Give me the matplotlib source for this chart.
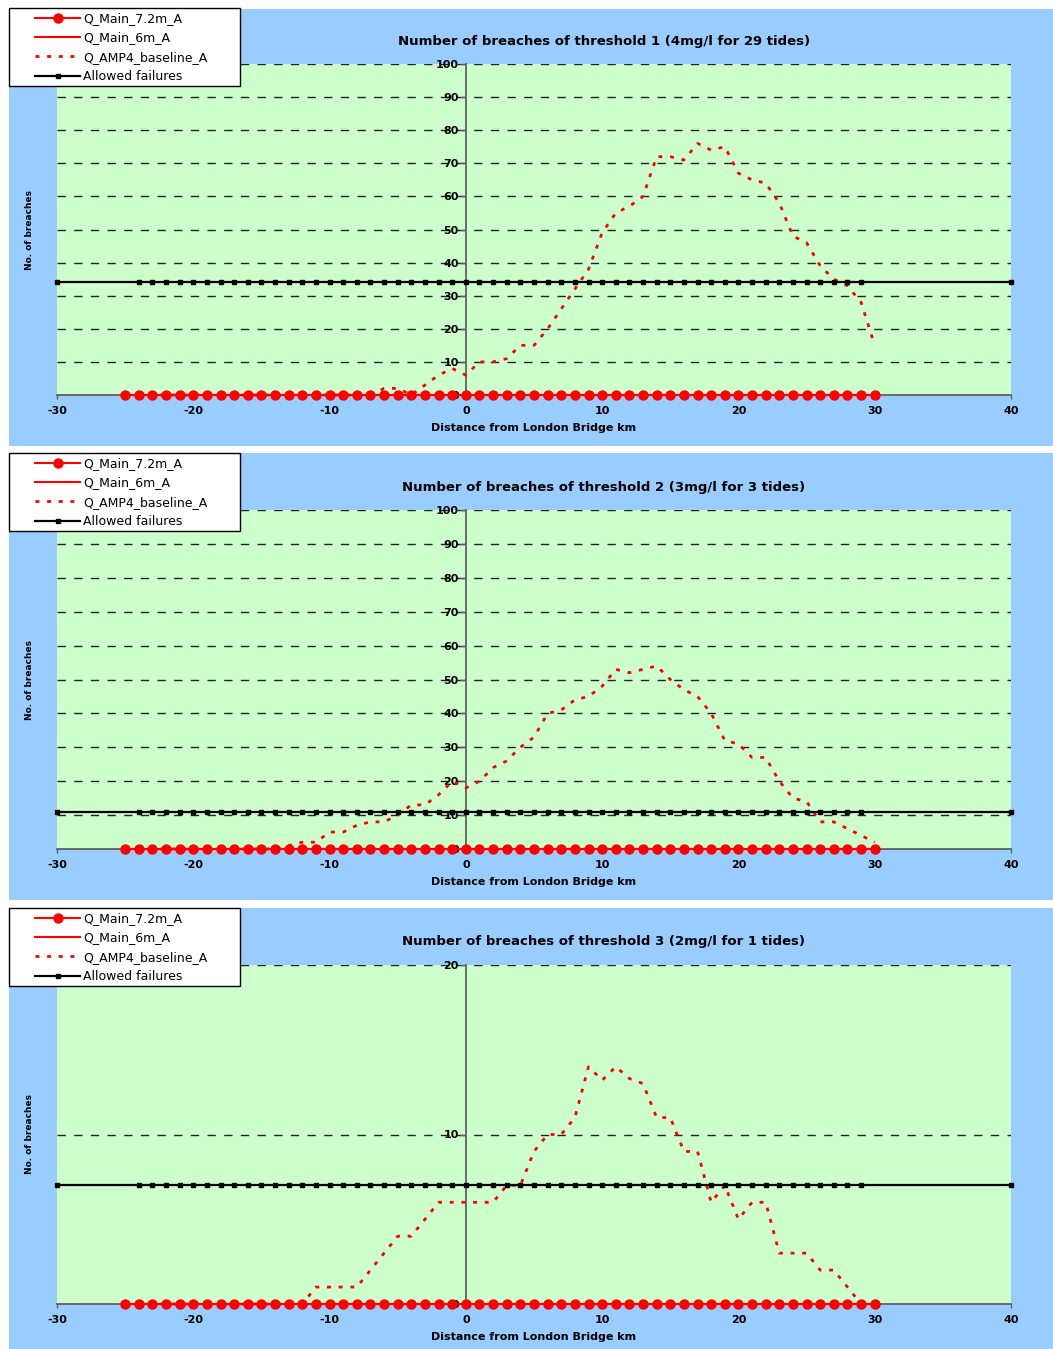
import numpy as np
import matplotlib
matplotlib.use("Agg")
import matplotlib.pyplot as plt
from matplotlib.patches import Rectangle

# distance from London Bridge (km), one station per km
distance = [-25, -24, -23, -22, -21, -20, -19, -18, -17, -16, -15, -14, -13,
            -12, -11, -10, -9, -8, -7, -6, -5, -4, -3, -2, -1, 0, 1, 2, 3,
            4, 5, 6, 7, 8, 9, 10, 11, 12, 13, 14, 15, 16, 17, 18, 19, 20,
            21, 22, 23, 24, 25, 26, 27, 28, 29, 30]

# main tunnel options never breach
main_72m = [0] * len(distance)
main_6m = [0] * len(distance)

# AMP4 baseline breaches per threshold
baseline_t1 = [0, 0, 0, 0, 0, 0, 0, 0, 0, 0, 0, 0, 0, 0, 0, 0, 0, 0, 0,
               2, 2, 0, 3, 6, 8, 6, 10, 10, 11, 15, 15, 20, 26, 32, 38, 49,
               55, 57, 60, 72, 72, 71, 76, 74, 75, 67, 65, 64, 58, 48, 46,
               39, 35, 33, 28, 15]
baseline_t2 = [0, 0, 0, 0, 0, 0, 0, 0, 0, 0, 0, 0, 1, 2, 2, 5, 5, 7, 8,
               8, 10, 13, 13, 16, 20, 18, 20, 24, 26, 30, 33, 40, 41, 44, 45,
               48, 53, 52, 53, 54, 50, 47, 45, 40, 32, 31, 27, 27, 20, 15,
               14, 8, 8, 6, 4, 2]
baseline_t3 = [0, 0, 0, 0, 0, 0, 0, 0, 0, 0, 0, 0, 0, 0, 1, 1, 1, 1, 2,
               3, 4, 4, 5, 6, 6, 6, 6, 6, 7, 7, 9, 10, 10, 11, 14, 13.2, 14,
               13.3, 13, 11, 11, 9, 9, 6, 7, 5, 6, 6, 3, 3, 3, 2, 2, 1, 0, 0]

# allowed failures line
allowed_x = [-30, -24, -23, -22, -21, -20, -19, -18, -17, -16, -15, -14, -13,
             -12, -11, -10, -9, -8, -7, -6, -5, -4, -3, -2, -1, 0, 1, 2, 3,
             4, 5, 6, 7, 8, 9, 10, 11, 12, 13, 14, 15, 16, 17, 18, 19, 20,
             21, 22, 23, 24, 25, 26, 27, 28, 29, 40]
allowed = [34, 11, 7]

titles = ["Number of breaches of threshold 1 (4mg/l for 29 tides)",
          "Number of breaches of threshold 2 (3mg/l for 3 tides)",
          "Number of breaches of threshold 3 (2mg/l for 1 tides)"]
baselines = [baseline_t1, baseline_t2, baseline_t3]
ymaxs = [100, 100, 20]
yticks = [np.arange(0, 101, 10), np.arange(0, 101, 10), [0, 10, 20]]

labels = ["Q_Main_7.2m_A", "Q_Main_6m_A", "Q_AMP4_baseline_A", "Allowed failures"]

#--------------------------------------------------
W, H = 1053, 1349
fig = plt.figure(figsize=(W/100, H/100), dpi=100)

plt.rc('font', family='DejaVu Sans')
plt.rc('axes', unicode_minus=False)

blue = '#99CCFF'
green = '#CCFFCC'

# pixel layout of each panel: (chart top, chart bottom, plot top, plot bottom, legend top)
panels = [(9, 446, 64, 395, 8),
          (453, 900, 510, 849, 453),
          (908, 1349, 965, 1304, 908)]
px_left, px_right = 57, 1011

def fx(x):
    return x / W

def fy(y):
    return 1 - y / H

for k, (ctop, cbot, ptop, pbot, ltop) in enumerate(panels):
    # chart area
    fig.patches.append(Rectangle((fx(9), fy(cbot)), fx(W - 9), (cbot - ctop)/H,
                                 transform=fig.transFigure, facecolor=blue,
                                 edgecolor='none', zorder=-2))

    ax = fig.add_axes([fx(px_left), fy(pbot), (px_right - px_left)/W, (pbot - ptop)/H])
    ax.set_facecolor(green)

    l1, = ax.plot(distance, main_72m, color='red', lw=1.5, marker='o',
                  ms=6.5, zorder=3, clip_on=False)
    l2, = ax.plot(distance, main_6m, color='red', lw=1.5, zorder=3, clip_on=False)
    l3, = ax.plot(distance, baselines[k], color='red', lw=2.0,
                  dashes=(1.4, 2.8), zorder=4, clip_on=False)
    l4, = ax.plot(allowed_x, [allowed[k]]*len(allowed_x), color='black', lw=1.6,
                  marker='s', ms=3.2, zorder=5, clip_on=False)

    ax.set_xlim(-30, 40)
    ax.set_ylim(0, ymaxs[k])
    ax.set_xticks(np.arange(-30, 41, 10))
    ax.set_yticks(yticks[k])

    for yv in yticks[k][1:]:
        ax.axhline(yv, color='#222222', lw=1.0, dashes=(6, 6), zorder=1)

    for s in ['top', 'right']:
        ax.spines[s].set_visible(False)
    ax.spines['left'].set_position(('data', 0))
    ax.spines['left'].set_color('#606060')
    ax.spines['left'].set_linewidth(1.3)
    ax.spines['bottom'].set_color('#606060')
    ax.spines['bottom'].set_linewidth(1.3)

    ax.tick_params(axis='y', direction='out', length=4, width=1, color='#606060',
                   pad=1, labelsize=8)
    ax.tick_params(axis='x', direction='out', length=3, width=1, color='#606060',
                   pad=5, labelsize=8)
    for t in ax.get_xticklabels() + ax.get_yticklabels():
        t.set_fontweight('bold')

    ax.set_xlabel("Distance from London Bridge km", fontsize=8, fontweight='bold',
                  labelpad=5)
    ax.text(fx(30), fy((ptop + pbot)/2), "No. of breaches", transform=fig.transFigure,
            rotation=90, ha='center', va='center', fontsize=6.5, fontweight='bold')

    fig.text(fx(604), fy(ptop - 23), titles[k], ha='center', va='center',
             fontsize=9.5, fontweight='bold')

    # legend box
    fig.patches.append(Rectangle((fx(9), fy(ltop + 78)), fx(231), 78/H,
                                 transform=fig.transFigure, facecolor='white',
                                 edgecolor='black', lw=1, zorder=4))
    fig.legend([l1, l2, l3, l4], labels, loc='upper left',
               bbox_to_anchor=(fx(29), fy(ltop - 2)), bbox_transform=fig.transFigure,
               frameon=False, borderpad=0, fontsize=9, handlelength=3.6,
               handletextpad=0.25, labelspacing=0.5, numpoints=1)

fig.savefig('out.png', dpi=100)
